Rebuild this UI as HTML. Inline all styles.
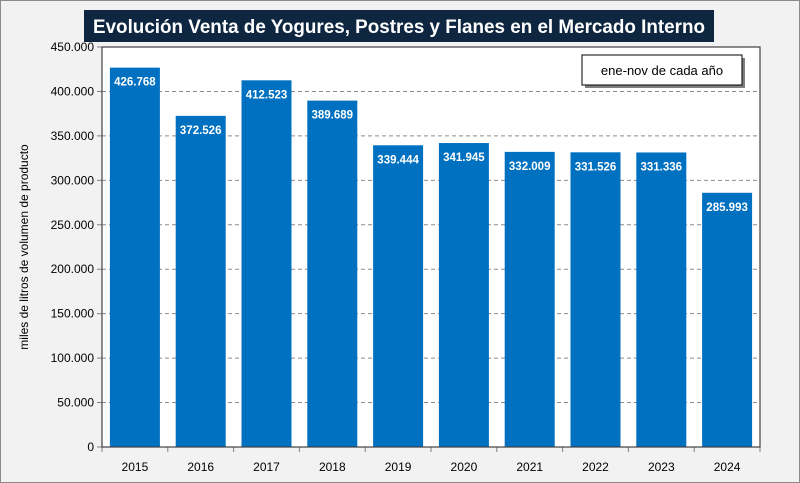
<!DOCTYPE html>
<html><head><meta charset="utf-8"><style>
html,body{margin:0;padding:0}
body{width:800px;height:483px;background:#f2f2f2;font-family:"Liberation Sans",sans-serif;overflow:hidden}
#frame{position:absolute;left:0;top:0;width:798px;height:481px;border:1px solid #8c8c8c}
</style></head><body>
<div id="frame"></div>
<svg id="chart" width="800" height="483" style="position:absolute;left:0;top:0"></svg>
<script>
const categories=["2015","2016","2017","2018","2019","2020","2021","2022","2023","2024"];
const values=[426768,372526,412523,389689,339444,341945,332009,331526,331336,285993];
const valueLabels=["426.768","372.526","412.523","389.689","339.444","341.945","332.009","331.526","331.336","285.993"];
const yTicks=[0,50000,100000,150000,200000,250000,300000,350000,400000,450000];
const yTickLabels=["0","50.000","100.000","150.000","200.000","250.000","300.000","350.000","400.000","450.000"];
const NS="http://www.w3.org/2000/svg";
const svg=document.getElementById('chart');
const L=102,R=760,T=47,B=447,yMax=450000;
const y=v=>B-(v/yMax)*(B-T);
const step=(R-L)/categories.length;
const x=i=>L+step*i;
function mk(tag,attrs,parent){const e=document.createElementNS(NS,tag);for(const k in attrs)e.setAttribute(k,attrs[k]);(parent||svg).appendChild(e);return e;}
// plot bg
const plot=mk('rect',{x:L,y:T,width:R-L,height:B-T,fill:'#fff',stroke:'none'});


// gridlines and y labels
yTicks.forEach((t,i)=>{
  if(t>0&&t<yMax){const g=mk('line',{x1:L,x2:R,y1:y(t),y2:y(t),stroke:'#8c8c8c','stroke-dasharray':'4,3','stroke-width':1});
  
  }
  mk('line',{x1:L-5,x2:L,y1:y(t),y2:y(t),stroke:'#808080'});
  const tx=mk('text',{x:L-8,y:y(t)+4,'text-anchor':'end','font-size':12,fill:'#000'});
  tx.textContent=yTickLabels[i];
  
  
});
// bars
const bw=50;
values.forEach((v,i)=>{
  const cx=x(i)+step/2;
  const b=mk('rect',{x:cx-bw/2,y:y(v),width:bw,height:B-y(v),fill:'#0070c0'});
  
  
  const lb=mk('text',{x:cx,y:y(v)+18,'text-anchor':'middle','font-size':11.5,'font-weight':'bold',fill:'#fff'});
  lb.textContent=valueLabels[i];
  
  
  const cl=mk('text',{x:cx,y:B+24,'text-anchor':'middle','font-size':12,fill:'#000'});
  cl.textContent=categories[i];
  
  
});
for(let i=0;i<=categories.length;i++)mk('line',{x1:x(i),x2:x(i),y1:B,y2:B+5,stroke:'#808080'});
// border
mk('rect',{x:L,y:T,width:R-L,height:B-T,fill:'none',stroke:'#404040','stroke-width':1.2});
// axis title
const at=mk('text',{x:0,y:0,transform:'translate(28,'+((T+B)/2)+') rotate(-90)','text-anchor':'middle','font-size':12,fill:'#000'});
at.textContent='miles de litros de volumen de producto';


// title
mk('rect',{x:84,y:10,width:630,height:32,fill:'#0f2641'});
const tt=mk('text',{x:399,y:33,'text-anchor':'middle','font-size':19,'font-weight':'bold',fill:'#fff',textLength:612,lengthAdjust:'spacingAndGlyphs'});
tt.textContent='Evolución Venta de Yogures, Postres y Flanes en el Mercado Interno';


// note box
mk('rect',{x:585,y:58,width:160,height:30,fill:'#7f7f7f'});
const nb=mk('rect',{x:582,y:55,width:160,height:30,fill:'#fff',stroke:'#000','stroke-width':1});


const nt=mk('text',{x:662,y:75,'text-anchor':'middle','font-size':13,fill:'#000'});
nt.textContent='ene-nov de cada año';


</script>
</body></html>
